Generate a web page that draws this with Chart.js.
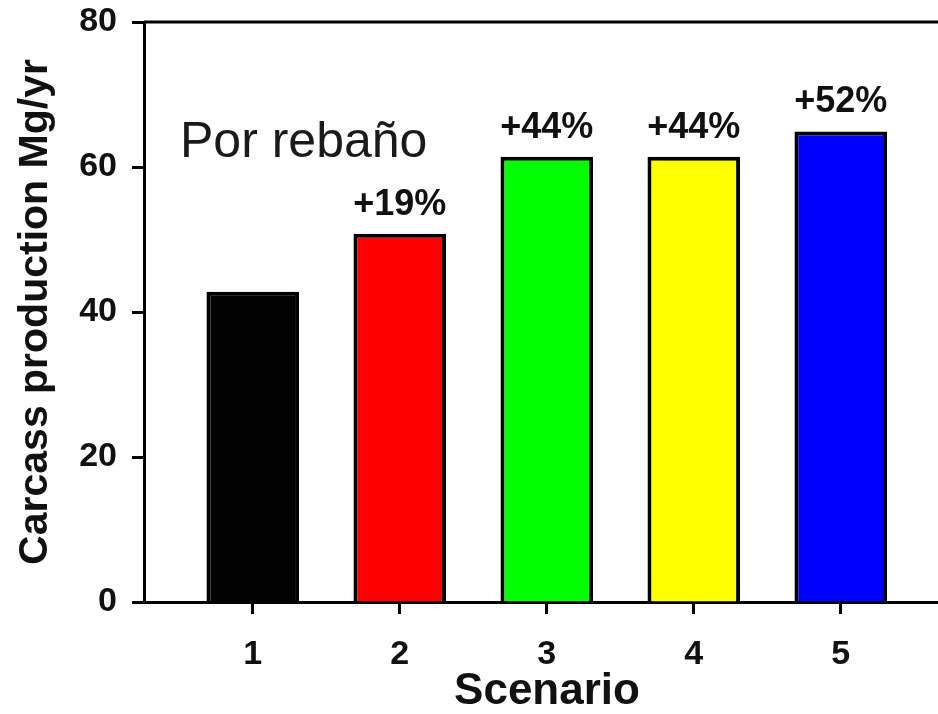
<!DOCTYPE html>
<html lang="es">
<head>
<meta charset="utf-8">
<title>Carcass production</title>
<script src="https://cdn.jsdelivr.net/npm/chart.js@4.4.1/dist/chart.umd.min.js"></script>
<style>
  html, body { margin: 0; padding: 0; background: #fff; overflow: hidden; }
  /* A área do gráfico continua um pouco além da janela, como no original recortado */
  #wrap { position: relative; width: 960px; height: 714px; }
</style>
</head>
<body>
<div id="wrap"><canvas id="carcassChart"></canvas></div>
<script>
// Valores.
const scenarios = [1, 2, 3, 4, 5];
const carcassValues = [42.8, 50.8, 61.4, 61.4, 64.9];
const changeLabels = ['', '+19%', '+44%', '+44%', '+52%'];
const barColors = ['#000000', '#ff0000', '#00ff00', '#ffff00', '#0000ff'];
const yTicks = [0, 20, 40, 60, 80];
const noteText = 'Por rebaño';

Chart.defaults.font.family = "'Liberation Sans', Arial, sans-serif";

/**
 * Escreve a variação percentual acima de cada barra.
 */
const barLabelsPlugin = {
    id: 'barLabels',
    afterDatasetsDraw(chart, args, opts) {
        const { ctx } = chart;
        const meta = chart.getDatasetMeta(0);
        ctx.save();
        ctx.font = opts.font;
        ctx.fillStyle = opts.color;
        ctx.textAlign = 'center';
        ctx.textBaseline = 'alphabetic';
        meta.data.forEach((bar, i) => {
            if (changeLabels[i]) {
                ctx.fillText(changeLabels[i], bar.x, bar.y - opts.gap);
            }
        });
        ctx.restore();
    }
};

/**
 * Linha superior do quadro e o texto "Por rebaño" dentro da área do gráfico.
 */
const frameNotePlugin = {
    id: 'frameNote',
    afterDraw(chart, args, opts) {
        const { ctx, chartArea, scales } = chart;
        ctx.save();
        ctx.strokeStyle = '#000';
        ctx.lineWidth = 3;
        ctx.beginPath();
        ctx.moveTo(chartArea.left, chartArea.top);
        ctx.lineTo(chartArea.right, chartArea.top);
        ctx.stroke();

        ctx.font = opts.font;
        ctx.fillStyle = opts.color;
        ctx.textAlign = 'left';
        ctx.textBaseline = 'alphabetic';
        ctx.fillText(noteText, scales.x.getPixelForValue(opts.x), scales.y.getPixelForValue(opts.y));
        ctx.restore();
    }
};

const ctx = document.getElementById('carcassChart').getContext('2d');

new Chart(ctx, {
    type: 'bar',
    data: {
        datasets: [{
            data: scenarios.map((s, i) => ({ x: s, y: carcassValues[i] })),
            backgroundColor: barColors,
            borderColor: '#000',
            borderWidth: 4,
            barPercentage: 0.63,
            categoryPercentage: 1
        }]
    },
    options: {
        responsive: true,
        maintainAspectRatio: false,
        animation: false,
        layout: { padding: { top: 22, right: 10, left: 0, bottom: 0 } },
        plugins: {
            legend: { display: false },
            tooltip: { enabled: false },
            barLabels: { font: "bold 36px 'Liberation Sans', Arial", color: '#111', gap: 19 },
            frameNote: { font: "50px 'Liberation Sans', Arial", color: '#1a1a1a', x: 0.505, y: 61.4 }
        },
        scales: {
            x: {
                type: 'linear',
                min: 0.26,
                max: 5.743,
                offset: false,
                afterBuildTicks: scale => { scale.ticks = scenarios.map(v => ({ value: v })); },
                afterFit: scale => {
                    scale.height = 112;
                    scale.paddingLeft = 0;
                    scale.paddingRight = 0;
                },
                grid: { drawOnChartArea: false, offset: false, tickLength: 12, tickWidth: 3, tickColor: '#000' },
                border: { color: '#000', width: 3 },
                ticks: {
                    color: '#111',
                    font: { size: 34, weight: 'bold' },
                    padding: 20,
                    maxRotation: 0,
                    autoSkip: false
                },
                title: {
                    display: true,
                    text: 'Scenario',
                    color: '#111',
                    font: { size: 44, weight: 'bold', lineHeight: 1 },
                    padding: { top: 0, bottom: 0 }
                }
            },
            y: {
                min: 0,
                max: 80,
                afterBuildTicks: scale => { scale.ticks = yTicks.map(v => ({ value: v })); },
                afterFit: scale => {
                    scale.width = 144;
                    scale.paddingTop = 0;
                    scale.paddingBottom = 0;
                },
                grid: { drawOnChartArea: false, tickLength: 12, tickWidth: 3, tickColor: '#000' },
                border: { color: '#000', width: 3 },
                ticks: { color: '#111', font: { size: 34, weight: 'bold' }, padding: 15 },
                title: {
                    display: true,
                    text: 'Carcass production Mg/yr',
                    color: '#111',
                    font: { size: 41, weight: 'bold', lineHeight: 1.2 },
                    padding: { top: 11, bottom: 0 }
                }
            }
        }
    },
    plugins: [barLabelsPlugin, frameNotePlugin]
});
</script>
</body>
</html>
